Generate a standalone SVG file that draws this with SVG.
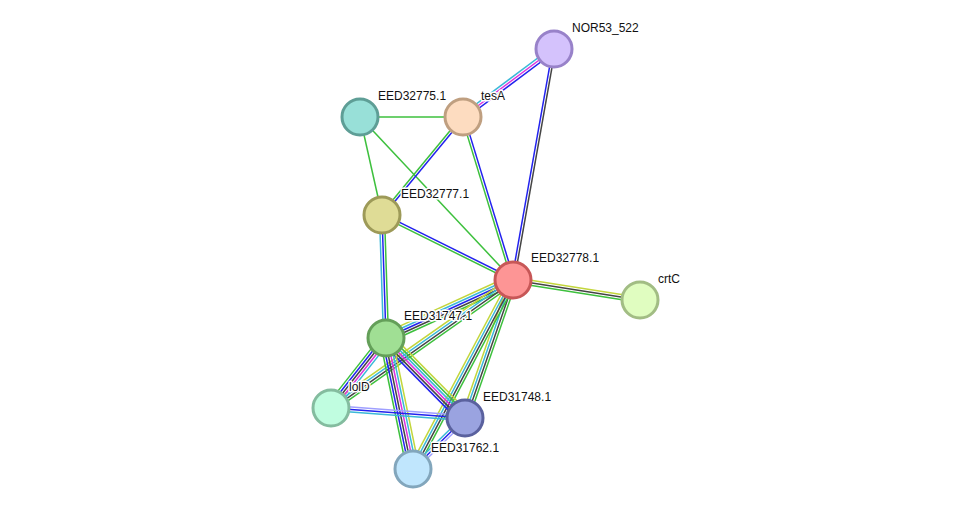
<svg xmlns="http://www.w3.org/2000/svg" width="975" height="515" viewBox="0 0 975 515">
<style>
line{stroke-width:1.5;fill:none}
.g{stroke:#3dc03d}.y{stroke:#c3d63c}.k{stroke:#444}.b{stroke:#2222ee}.m{stroke:#dd33dd}.c{stroke:#3ab8d8}.p{stroke:#9f9fff}
.n{stroke-width:3}
text{font-family:"Liberation Sans",Arial,sans-serif;font-size:12px;fill:#111;stroke:#fff;stroke-width:3px;stroke-linejoin:round;paint-order:stroke}
</style>
<rect width="975" height="515" fill="#fff"/>
<g id="edges">
<g transform="translate(554,49) rotate(143.23)"><line class="c" x1="0" y1="2.5" x2="113.6" y2="2.5"/><line class="m" x1="0" y1="0" x2="113.6" y2="0"/><line class="b" x1="0" y1="-2.5" x2="113.6" y2="-2.5"/></g>
<g transform="translate(554,49) rotate(100.06)"><line class="b" x1="0" y1="1.25" x2="234.6" y2="1.25"/><line class="k" x1="0" y1="-1.25" x2="234.6" y2="-1.25"/></g>
<g transform="translate(360,117) rotate(0)"><line class="g" x1="0" y1="0" x2="103" y2="0"/></g>
<g transform="translate(360,117) rotate(77.35)"><line class="g" x1="0" y1="0" x2="100.4" y2="0"/></g>
<g transform="translate(360,117) rotate(46.81)"><line class="g" x1="0" y1="0" x2="223.6" y2="0"/></g>
<g transform="translate(463,117) rotate(129.58)"><line class="g" x1="0" y1="1.25" x2="127.1" y2="1.25"/><line class="b" x1="0" y1="-1.25" x2="127.1" y2="-1.25"/></g>
<g transform="translate(463,117) rotate(72.95)"><line class="g" x1="0" y1="1.25" x2="170.5" y2="1.25"/><line class="b" x1="0" y1="-1.25" x2="170.5" y2="-1.25"/></g>
<g transform="translate(382,215) rotate(26.39)"><line class="b" x1="0" y1="-1.25" x2="146.2" y2="-1.25"/><line class="g" x1="0" y1="1.25" x2="146.2" y2="1.25"/></g>
<g transform="translate(382,215) rotate(88.14)"><line class="c" x1="0" y1="2.5" x2="123.1" y2="2.5"/><line class="b" x1="0" y1="0" x2="123.1" y2="0"/><line class="g" x1="0" y1="-2.5" x2="123.1" y2="-2.5"/></g>
<g transform="translate(513,280) rotate(8.95)"><line class="y" x1="0" y1="-2.5" x2="128.6" y2="-2.5"/><line class="k" x1="0" y1="0" x2="128.6" y2="0"/><line class="g" x1="0" y1="2.5" x2="128.6" y2="2.5"/></g>
<g transform="translate(513,280) rotate(155.46)"><line class="y" x1="0" y1="5" x2="139.6" y2="5"/><line class="c" x1="0" y1="2.5" x2="139.6" y2="2.5"/><line class="b" x1="0" y1="0" x2="139.6" y2="0"/><line class="k" x1="0" y1="-2.5" x2="139.6" y2="-2.5"/><line class="g" x1="0" y1="-5" x2="139.6" y2="-5"/></g>
<g transform="translate(513,280) rotate(144.88)"><line class="y" x1="0" y1="3.75" x2="222.5" y2="3.75"/><line class="c" x1="0" y1="1.25" x2="222.5" y2="1.25"/><line class="k" x1="0" y1="-1.25" x2="222.5" y2="-1.25"/><line class="g" x1="0" y1="-3.75" x2="222.5" y2="-3.75"/></g>
<g transform="translate(513,280) rotate(109.18)"><line class="y" x1="0" y1="3.75" x2="146.1" y2="3.75"/><line class="c" x1="0" y1="1.25" x2="146.1" y2="1.25"/><line class="k" x1="0" y1="-1.25" x2="146.1" y2="-1.25"/><line class="g" x1="0" y1="-3.75" x2="146.1" y2="-3.75"/></g>
<g transform="translate(513,280) rotate(117.89)"><line class="y" x1="0" y1="3.75" x2="213.8" y2="3.75"/><line class="c" x1="0" y1="1.25" x2="213.8" y2="1.25"/><line class="k" x1="0" y1="-1.25" x2="213.8" y2="-1.25"/><line class="g" x1="0" y1="-3.75" x2="213.8" y2="-3.75"/></g>
<g transform="translate(386,338) rotate(128.16)"><line class="g" x1="0" y1="5" x2="89" y2="5"/><line class="b" x1="0" y1="2.5" x2="89" y2="2.5"/><line class="k" x1="0" y1="0" x2="89" y2="0"/><line class="m" x1="0" y1="-2.5" x2="89" y2="-2.5"/><line class="c" x1="0" y1="-5" x2="89" y2="-5"/></g>
<g transform="translate(386,338) rotate(45.36)"><line class="y" x1="0" y1="-6.25" x2="112.4" y2="-6.25"/><line class="g" x1="0" y1="-3.75" x2="112.4" y2="-3.75"/><line class="c" x1="0" y1="-1.25" x2="112.4" y2="-1.25"/><line class="m" x1="0" y1="1.25" x2="112.4" y2="1.25"/><line class="k" x1="0" y1="3.75" x2="112.4" y2="3.75"/><line class="b" x1="0" y1="6.25" x2="112.4" y2="6.25"/></g>
<g transform="translate(386,338) rotate(78.35)"><line class="g" x1="0" y1="6.25" x2="133.8" y2="6.25"/><line class="b" x1="0" y1="3.75" x2="133.8" y2="3.75"/><line class="k" x1="0" y1="1.25" x2="133.8" y2="1.25"/><line class="m" x1="0" y1="-1.25" x2="133.8" y2="-1.25"/><line class="c" x1="0" y1="-3.75" x2="133.8" y2="-3.75"/><line class="y" x1="0" y1="-6.25" x2="133.8" y2="-6.25"/></g>
<g transform="translate(331,408) rotate(4.27)"><line class="p" x1="0" y1="-2.5" x2="134.4" y2="-2.5"/><line class="b" x1="0" y1="0" x2="134.4" y2="0"/><line class="c" x1="0" y1="2.5" x2="134.4" y2="2.5"/></g>
<g transform="translate(465,418) rotate(135.56)"><line class="c" x1="0" y1="2.5" x2="72.8" y2="2.5"/><line class="b" x1="0" y1="0" x2="72.8" y2="0"/><line class="p" x1="0" y1="-2.5" x2="72.8" y2="-2.5"/></g>
</g>
<g id="NOR53_522"><circle class="n" cx="554" cy="49" r="18" fill="#d4c2fc" stroke="#9882c9"/><text x="572" y="32">NOR53_522</text></g>
<g id="EED32775.1"><circle class="n" cx="360" cy="117" r="18" fill="#98e0d8" stroke="#5e9e96"/><text x="378" y="100">EED32775.1</text></g>
<g id="tesA"><circle class="n" cx="463" cy="117" r="18" fill="#fddcc0" stroke="#bf9f80"/><text x="481" y="100">tesA</text></g>
<g id="EED32777.1"><circle class="n" cx="382" cy="215" r="18" fill="#dfdc96" stroke="#9d9a58"/><text x="401" y="198">EED32777.1</text></g>
<g id="EED32778.1"><circle class="n" cx="513" cy="280" r="18" fill="#fd9595" stroke="#c75757"/><text x="531" y="262">EED32778.1</text></g>
<g id="crtC"><circle class="n" cx="640" cy="300" r="18" fill="#e0fdc0" stroke="#a2bd84"/><text x="658" y="283">crtC</text></g>
<g id="EED31747.1"><circle class="n" cx="386" cy="338" r="18" fill="#a0df94" stroke="#649f59"/><text x="404" y="320">EED31747.1</text></g>
<g id="lolD"><circle class="n" cx="331" cy="408" r="18" fill="#c0fde0" stroke="#84bc9f"/><text x="349" y="391">lolD</text></g>
<g id="EED31748.1"><circle class="n" cx="465" cy="418" r="18" fill="#9aa3e0" stroke="#5a619e"/><text x="483" y="401">EED31748.1</text></g>
<g id="EED31762.1"><circle class="n" cx="413" cy="469" r="18" fill="#c0e6fd" stroke="#82a6bc"/><text x="431" y="452">EED31762.1</text></g>
</svg>
